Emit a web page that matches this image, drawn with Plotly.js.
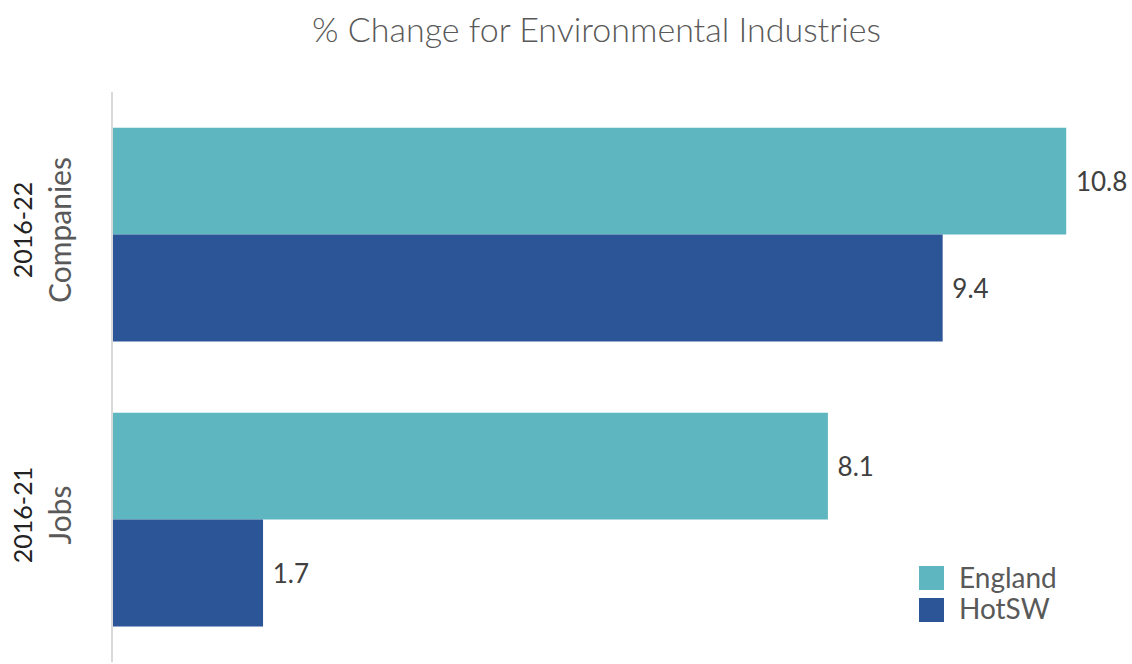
<!DOCTYPE html>
<html>
<head>
<meta charset="utf-8">
<script src="https://cdn.plot.ly/plotly-3.0.1.min.js"></script>
<style>html,body{margin:0;padding:0;background:#fff;}#chart{width:1132px;height:664px;}</style>
</head>
<body>
<div id="chart"></div>
<script>
const categories = ['Companies', 'Jobs'];
const periods = ['2016-22', '2016-21'];
const seriesNames = ['England', 'HotSW'];
const englandValues = [10.8, 8.1];
const hotswValues = [9.4, 1.7];
const colors = ['#5eb6c0', '#2b5597'];
const titleText = '% Change for Environmental Industries';

const tickText = categories.map((c, i) =>
  '<span style="font-size:25px;fill:#222222">' + periods[i] + '</span><br>' + c);

function barTrace(name, values, color) {
  return {
    type: 'bar', orientation: 'h', name: name,
    y: categories, x: values,
    marker: {color: color},
    text: values.map(v => v.toFixed(1)),
    texttemplate: '\u00a0%{text}',
    textposition: 'outside',
    constraintext: 'none',
    cliponaxis: false,
    textfont: {family: 'Lato, sans-serif', size: 26, color: '#404040'},
    showlegend: false,
    hoverinfo: 'none'
  };
}

const traces = [
  barTrace(seriesNames[0], englandValues, colors[0]),
  barTrace(seriesNames[1], hotswValues, colors[1])
];

const L = 113, T = 92, W = 1015, H = 570;
const px = x => (x - L) / W;
const py = y => 1 - (y - T) / H;

const layout = {
  width: 1132, height: 664,
  margin: {l: L, r: 1132 - L - W, t: T, b: 664 - T - H, pad: 0},
  paper_bgcolor: '#ffffff', plot_bgcolor: '#ffffff',
  barmode: 'group', bargap: 0.25, bargroupgap: 0,
  title: {text: titleText, x: 0.527, xanchor: 'center', y: 0.955, yanchor: 'middle',
          font: {family: 'Lato, sans-serif', size: 34, color: '#595959', weight: 300}},
  xaxis: {range: [0, 11.5], showgrid: false, zeroline: false, showticklabels: false,
          showline: false, ticks: ''},
  yaxis: {type: 'category', autorange: 'reversed', showgrid: false, zeroline: false,
          showline: true, linecolor: '#d9d9d9', linewidth: 2,
          tickmode: 'array', tickvals: categories, ticktext: tickText,
          tickangle: -90, ticks: '', ticklabelstandoff: 28,
          tickfont: {family: 'Lato, sans-serif', size: 30, color: '#595959'}},
  showlegend: false,
  shapes: [
    {type: 'rect', xref: 'paper', yref: 'paper', x0: px(919), x1: px(944), y0: py(566), y1: py(590),
     fillcolor: colors[0], line: {width: 0}},
    {type: 'rect', xref: 'paper', yref: 'paper', x0: px(919), x1: px(944), y0: py(598), y1: py(622),
     fillcolor: colors[1], line: {width: 0}}
  ],
  annotations: [
    {xref: 'paper', yref: 'paper', x: px(957), y: py(577), xanchor: 'left', yanchor: 'middle',
     text: seriesNames[0], showarrow: false, font: {family: 'Lato, sans-serif', size: 28, color: '#595959'}},
    {xref: 'paper', yref: 'paper', x: px(957), y: py(608), xanchor: 'left', yanchor: 'middle',
     text: seriesNames[1], showarrow: false, font: {family: 'Lato, sans-serif', size: 28, color: '#595959'}}
  ]
};

Plotly.newPlot('chart', traces, layout, {displayModeBar: false, staticPlot: true});
</script>
</body>
</html>
